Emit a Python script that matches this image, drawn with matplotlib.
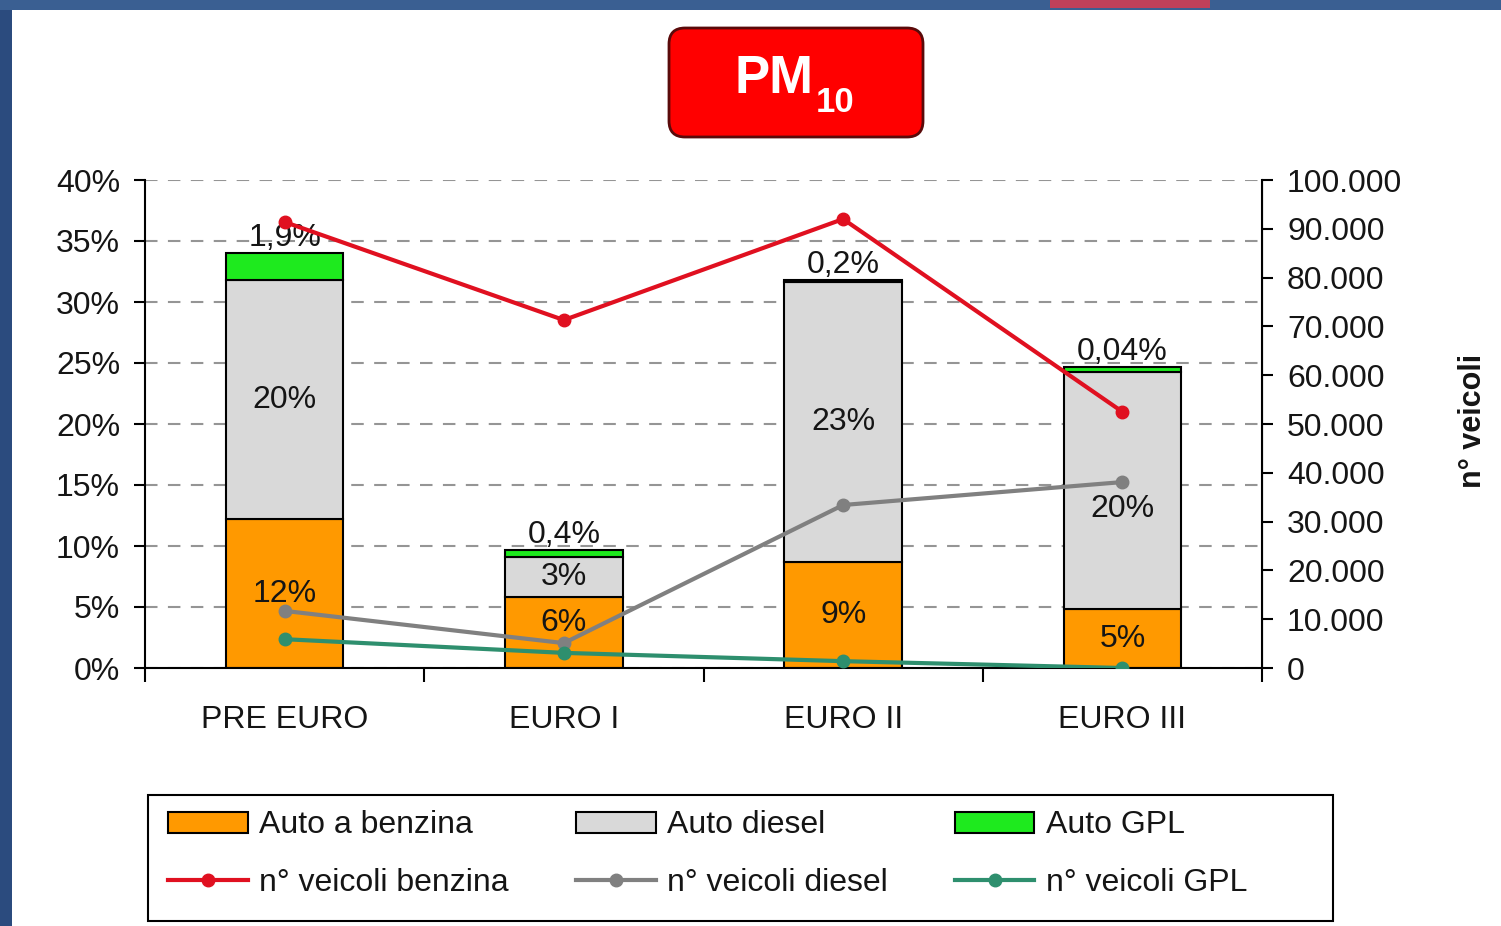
import matplotlib
matplotlib.use('Agg')
import matplotlib.pyplot as plt
from matplotlib.patches import FancyBboxPatch, Rectangle, Patch
from matplotlib.lines import Line2D
from matplotlib.ticker import FuncFormatter, MultipleLocator
import numpy as np

# dati
categories = ['PRE EURO', 'EURO I', 'EURO II', 'EURO III']
quota_benzina = [12.2, 5.8, 8.7, 4.8]
quota_diesel = [19.6, 3.3, 22.9, 19.5]
quota_gpl = [2.2, 0.6, 0.2, 0.4]
label_benzina = ['12%', '6%', '9%', '5%']
label_diesel = ['20%', '3%', '23%', '20%']
label_gpl = ['1,9%', '0,4%', '0,2%', '0,04%']
veicoli_benzina = [91400, 71300, 92000, 52500]
veicoli_diesel = [11700, 5100, 33400, 38100]
veicoli_gpl = [5900, 3100, 1400, 0]

plt.rcParams['font.family'] = ['Liberation Sans', 'DejaVu Sans']
FS = 23
TXT = '#151515'

col_benz = '#FF9900'
col_dies = '#D9D9D9'
col_gpl = '#1EEA1E'
line_benz = '#E01020'
line_dies = '#808080'
line_gpl = '#2E8F6E'

W, H = 1501, 926
fig = plt.figure(figsize=(W / 100, H / 100), dpi=100)
fig.patch.set_facecolor('white')

# cornice blu della slide
fig.patches.append(Rectangle((0, 0), 12 / W, 1, transform=fig.transFigure,
                             facecolor='#2B4B7E', edgecolor='none', zorder=0))
fig.patches.append(Rectangle((0, 1 - 10 / H), 1, 10 / H, transform=fig.transFigure,
                             facecolor='#3A5F92', edgecolor='none', zorder=0))
fig.patches.append(Rectangle((1050 / W, 1 - 8 / H), 160 / W, 8 / H, transform=fig.transFigure,
                             facecolor='#C0405A', edgecolor='none', zorder=1))

ax = fig.add_axes([145 / W, 1 - 668 / H, (1262 - 145) / W, (668 - 180) / H])
ax2 = ax.twinx()

x = np.arange(len(categories))
bw = 0.42
b1 = np.array(quota_benzina)
b2 = np.array(quota_diesel)
b3 = np.array(quota_gpl)

ax.bar(x, b1, bw, color=col_benz, edgecolor='black', linewidth=1.5, zorder=2)
ax.bar(x, b2, bw, bottom=b1, color=col_dies, edgecolor='black', linewidth=1.5, zorder=2)
ax.bar(x, b3, bw, bottom=b1 + b2, color=col_gpl, edgecolor='black', linewidth=1.5, zorder=2)

# piccoli spostamenti delle etichette come nell'originale
shift_benz = [0, 0.8, 0, 0]
shift_dies = [0, 0, 0, -1.5]
for i in range(len(categories)):
    ax.text(x[i], b1[i] / 2 + shift_benz[i], label_benzina[i], ha='center', va='center',
            fontsize=FS, color=TXT, zorder=3)
    ax.text(x[i], b1[i] + b2[i] / 2 + shift_dies[i], label_diesel[i], ha='center', va='center',
            fontsize=FS, color=TXT, zorder=3)
    ax.annotate(label_gpl[i], (x[i], b1[i] + b2[i] + b3[i]), xytext=(0, 0),
                textcoords='offset points', ha='center', va='bottom', fontsize=FS, color=TXT, zorder=3)

ax.set_xlim(-0.5, 3.5)
ax.set_ylim(0, 40)
ax.yaxis.set_major_locator(MultipleLocator(5))
ax.yaxis.set_major_formatter(FuncFormatter(lambda v, p: f'{v:.0f}%'))
ax.grid(axis='y', color='#959595', linestyle=(0, (6, 5)), linewidth=1.5, zorder=0)
ax.set_axisbelow(True)

ax.set_xticks(x)
ax.set_xticklabels(categories)
ax.set_xticks(np.arange(-0.5, 4.0, 1.0), minor=True)
ax.tick_params(axis='x', which='major', length=0, pad=27, labelsize=FS, labelcolor=TXT)
ax.tick_params(axis='x', which='minor', length=10, width=1.5, direction='out')
ax.tick_params(axis='y', length=8, width=1.5, direction='out', pad=10, labelsize=FS, labelcolor=TXT)

ax.spines['top'].set_visible(False)
ax2.spines['top'].set_visible(False)
for s in ['left', 'bottom']:
    ax.spines[s].set_linewidth(1.5)
ax2.spines['right'].set_linewidth(1.5)
ax2.spines['left'].set_visible(False)
ax2.spines['bottom'].set_visible(False)

ax2.plot(x, veicoli_benzina, color=line_benz, lw=3, marker='o', ms=9, zorder=5)
ax2.plot(x, veicoli_diesel, color=line_dies, lw=3, marker='o', ms=9, zorder=5)
ax2.plot(x, veicoli_gpl, color=line_gpl, lw=3, marker='o', ms=9, zorder=5)
ax2.set_ylim(0, 100000)
ax2.yaxis.set_major_locator(MultipleLocator(10000))
ax2.yaxis.set_major_formatter(FuncFormatter(lambda v, p: f'{int(v):,}'.replace(',', '.')))
ax2.tick_params(axis='y', length=8, width=1.5, direction='out', pad=10, labelsize=FS, labelcolor=TXT)
ax2.set_zorder(ax.get_zorder() + 1)
ax2.patch.set_visible(False)

fig.text(1473 / W, 1 - 421 / H, 'n° veicoli', rotation=90, ha='center', va='center',
         fontsize=22, fontweight='bold', color=TXT)

# riquadro titolo
tax = fig.add_axes([660 / W, 1 - 142 / H, 272 / W, 120 / H])
tax.set_xlim(0, 272)
tax.set_ylim(0, 120)
tax.axis('off')
tax.add_patch(FancyBboxPatch((9, 5), 254, 109, boxstyle='round,pad=0,rounding_size=16',
                             facecolor='#FF0000', edgecolor='#5A0A0A', linewidth=2))
tax.text(74, 63, 'PM', fontsize=38, fontweight='bold', color='white', ha='left', va='center')
tax.text(156, 40, '10', fontsize=25, fontweight='bold', color='white', ha='left', va='center')

# legenda
fig.patches.append(Rectangle((148 / W, 1 - 921 / H), (1333 - 148) / W, (921 - 795) / H,
                             transform=fig.transFigure, facecolor='white',
                             edgecolor='black', linewidth=1.5, zorder=2))
handles = [Patch(facecolor=col_benz, edgecolor='black', linewidth=1.5),
           Line2D([], [], color=line_benz, lw=3, marker='o', ms=9),
           Patch(facecolor=col_dies, edgecolor='black', linewidth=1.5),
           Line2D([], [], color=line_dies, lw=3, marker='o', ms=9),
           Patch(facecolor=col_gpl, edgecolor='black', linewidth=1.5),
           Line2D([], [], color=line_gpl, lw=3, marker='o', ms=9)]
labels = ['Auto a benzina', 'n° veicoli benzina', 'Auto diesel',
          'n° veicoli diesel', 'Auto GPL', 'n° veicoli GPL']
leg = fig.legend(handles, labels, ncol=3, loc='center left',
                 bbox_to_anchor=(168 / W, 1 - 854 / H),
                 fontsize=FS, frameon=False, handlelength=2.5, handleheight=0.65,
                 handletextpad=0.35, labelspacing=0.85, columnspacing=2.1,
                 borderpad=0, borderaxespad=0)
leg.set_zorder(3)
for t in leg.get_texts():
    t.set_color(TXT)

fig.savefig('out.png', dpi=100)
